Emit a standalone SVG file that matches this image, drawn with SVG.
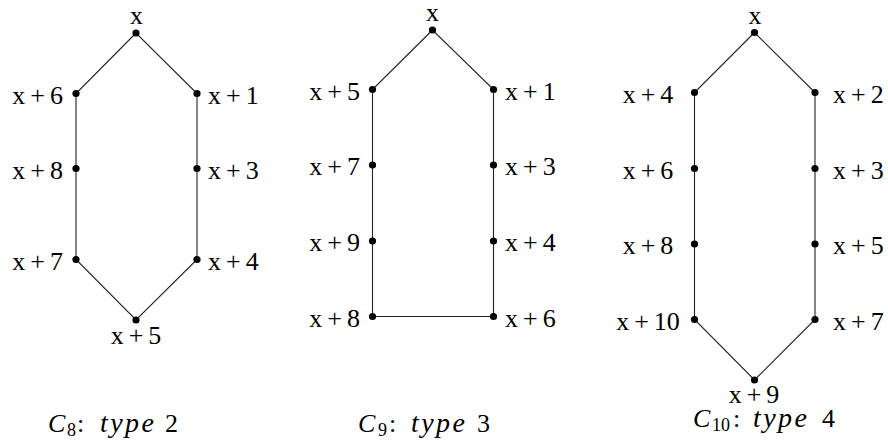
<svg xmlns="http://www.w3.org/2000/svg" width="888" height="441" viewBox="0 0 888 441">
<style>
.e{fill:none;stroke:#222;stroke-width:1.1}
.d{fill:#000}
text{font-family:"Liberation Serif","Times New Roman",serif;font-size:26px;fill:#000}
.l{text-anchor:end}
.m{text-anchor:middle}
.c{font-size:26px}
.i{font-style:italic}
.t{font-style:italic;font-size:28px}
.s{font-size:18px}
</style>
<rect width="888" height="441" fill="#fff"/>
<g id="connectors">
<polygon class="e" points="136,33 76,93.5 76,259.5 136,320 197,259.5 197,93.5"/>
<polygon class="e" points="432.5,30 372.5,89.5 372.5,316.5 493.5,316.5 493.5,89.5"/>
<polygon class="e" points="754.5,32.5 694.5,92.5 694.5,319.5 754.5,380 815,319.5 815,92.5"/>
</g>
<g id="c8">
<g id="c8-x"><circle class="d" cx="136" cy="33" r="3.6"/><text class="m" x="136.5" y="24">x</text></g>
<g id="c8-x6"><circle class="d" cx="76" cy="93.5" r="3.6"/><text class="l" x="63" y="103.5">x<tspan dx="5">+</tspan><tspan dx="5">6</tspan></text></g>
<g id="c8-x8"><circle class="d" cx="76" cy="168.5" r="3.6"/><text class="l" x="63" y="178.5">x<tspan dx="5">+</tspan><tspan dx="5">8</tspan></text></g>
<g id="c8-x7"><circle class="d" cx="76" cy="259.5" r="3.6"/><text class="l" x="63" y="269.5">x<tspan dx="5">+</tspan><tspan dx="5">7</tspan></text></g>
<g id="c8-x1"><circle class="d" cx="197" cy="93.5" r="3.6"/><text x="208" y="103.5">x<tspan dx="5">+</tspan><tspan dx="5">1</tspan></text></g>
<g id="c8-x3"><circle class="d" cx="197" cy="168.5" r="3.6"/><text x="208" y="178.5">x<tspan dx="5">+</tspan><tspan dx="5">3</tspan></text></g>
<g id="c8-x4"><circle class="d" cx="197" cy="259.5" r="3.6"/><text x="208" y="269.5">x<tspan dx="5">+</tspan><tspan dx="5">4</tspan></text></g>
<g id="c8-x5"><circle class="d" cx="136" cy="320" r="3.6"/><text class="m" x="136" y="344">x<tspan dx="5">+</tspan><tspan dx="5">5</tspan></text></g>
<text class="c" x="48" y="432"><tspan class="i">C</tspan><tspan class="s" x="67" y="436">8</tspan><tspan x="77" y="432">:</tspan><tspan class="t" x="100" textLength="54">type</tspan><tspan x="165">2</tspan></text>
</g>
<g id="c9">
<g id="c9-x"><circle class="d" cx="432.5" cy="30" r="3.6"/><text class="m" x="432.5" y="21">x</text></g>
<g id="c9-x5"><circle class="d" cx="372.5" cy="89.5" r="3.6"/><text class="l" x="360" y="99.5">x<tspan dx="5">+</tspan><tspan dx="5">5</tspan></text></g>
<g id="c9-x7"><circle class="d" cx="372.5" cy="165" r="3.6"/><text class="l" x="360" y="175">x<tspan dx="5">+</tspan><tspan dx="5">7</tspan></text></g>
<g id="c9-x9"><circle class="d" cx="372.5" cy="241" r="3.6"/><text class="l" x="360" y="251">x<tspan dx="5">+</tspan><tspan dx="5">9</tspan></text></g>
<g id="c9-x8"><circle class="d" cx="372.5" cy="316.5" r="3.6"/><text class="l" x="360" y="326.5">x<tspan dx="5">+</tspan><tspan dx="5">8</tspan></text></g>
<g id="c9-x1"><circle class="d" cx="493.5" cy="89.5" r="3.6"/><text x="505" y="99.5">x<tspan dx="5">+</tspan><tspan dx="5">1</tspan></text></g>
<g id="c9-x3"><circle class="d" cx="493.5" cy="165" r="3.6"/><text x="505" y="175">x<tspan dx="5">+</tspan><tspan dx="5">3</tspan></text></g>
<g id="c9-x4"><circle class="d" cx="493.5" cy="241" r="3.6"/><text x="505" y="251">x<tspan dx="5">+</tspan><tspan dx="5">4</tspan></text></g>
<g id="c9-x6"><circle class="d" cx="493.5" cy="316.5" r="3.6"/><text x="505" y="326.5">x<tspan dx="5">+</tspan><tspan dx="5">6</tspan></text></g>
<text class="c" x="358" y="432"><tspan class="i">C</tspan><tspan class="s" x="378" y="436">9</tspan><tspan x="389" y="432">:</tspan><tspan class="t" x="411" textLength="54">type</tspan><tspan x="477">3</tspan></text>
</g>
<g id="c10">
<g id="c10-x"><circle class="d" cx="754.5" cy="32.5" r="3.6"/><text class="m" x="755" y="24">x</text></g>
<g id="c10-x4"><circle class="d" cx="694.5" cy="92.5" r="3.6"/><text class="m" x="648" y="102.5">x<tspan dx="5">+</tspan><tspan dx="5">4</tspan></text></g>
<g id="c10-x6"><circle class="d" cx="694.5" cy="168.5" r="3.6"/><text class="m" x="648" y="178.5">x<tspan dx="5">+</tspan><tspan dx="5">6</tspan></text></g>
<g id="c10-x8"><circle class="d" cx="694.5" cy="244" r="3.6"/><text class="m" x="648" y="254">x<tspan dx="5">+</tspan><tspan dx="5">8</tspan></text></g>
<g id="c10-x10"><circle class="d" cx="694.5" cy="319.5" r="3.6"/><text class="m" x="648" y="329.5">x<tspan dx="5">+</tspan><tspan dx="5">10</tspan></text></g>
<g id="c10-x2"><circle class="d" cx="815" cy="92.5" r="3.6"/><text x="833" y="102.5">x<tspan dx="5">+</tspan><tspan dx="5">2</tspan></text></g>
<g id="c10-x3"><circle class="d" cx="815" cy="168.5" r="3.6"/><text x="833" y="178.5">x<tspan dx="5">+</tspan><tspan dx="5">3</tspan></text></g>
<g id="c10-x5"><circle class="d" cx="815" cy="244" r="3.6"/><text x="833" y="254">x<tspan dx="5">+</tspan><tspan dx="5">5</tspan></text></g>
<g id="c10-x7"><circle class="d" cx="815" cy="319.5" r="3.6"/><text x="833" y="329.5">x<tspan dx="5">+</tspan><tspan dx="5">7</tspan></text></g>
<g id="c10-x9"><circle class="d" cx="754.5" cy="380" r="3.6"/><text class="m" x="754" y="402.5">x<tspan dx="5">+</tspan><tspan dx="5">9</tspan></text></g>
<text class="c" x="693" y="427"><tspan class="i">C</tspan><tspan class="s" x="712" y="431">10</tspan><tspan x="733" y="427">:</tspan><tspan class="t" x="753" textLength="54">type</tspan><tspan x="822">4</tspan></text>
</g>
</svg>
